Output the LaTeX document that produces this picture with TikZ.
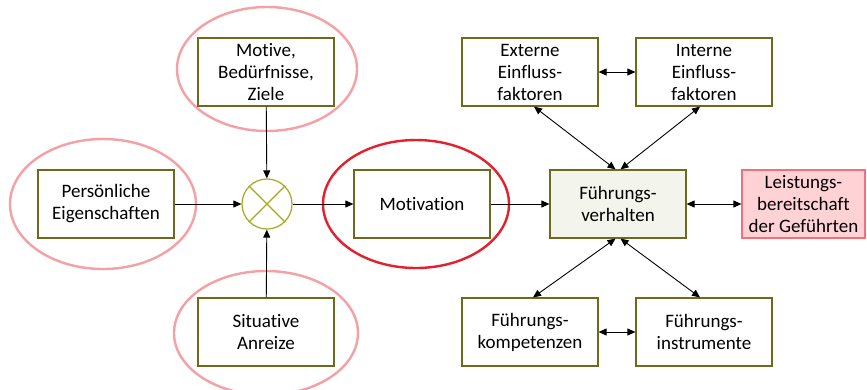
\documentclass[tikz,border=0pt]{standalone}
\usepackage{fontspec}
\setmainfont[Ligatures={NoCommon}]{Carlito}
\usetikzlibrary{arrows.meta,calc}
\definecolor{boxol}{HTML}{6B6B1E}
\definecolor{circol}{HTML}{A8A820}
\definecolor{pinkel}{HTML}{F5A0A4}
\definecolor{redel}{HTML}{E3202B}
\definecolor{fvfill}{HTML}{F3F5EC}
\definecolor{lbfill}{HTML}{FFD3D6}
\definecolor{lbdraw}{HTML}{F2707A}
\tikzset{
  x=1pt,y=-1pt,
  every node/.style={font=\fontsize{19}{22}\selectfont, align=center, inner sep=0pt},
  boxnode/.style={draw=boxol, line width=1.2pt, minimum width=136pt, minimum height=68pt},
  pinkring/.style={draw=pinkel, line width=2.4pt},
  redring/.style={draw=redel, line width=2.4pt},
  arr/.style={draw=black, line width=0.9pt, -{Triangle[length=8pt,width=7pt]}},
  darr/.style={draw=black, line width=0.9pt, {Triangle[length=8pt,width=7pt]}-{Triangle[length=8pt,width=7pt]}}
}
\begin{document}
\begin{tikzpicture}
\useasboundingbox (0,0) rectangle (867,389);
% ellipses
\draw[pinkring] (267,69) ellipse [x radius=90, y radius=62];
\draw[pinkring] (103,204) ellipse [x radius=93, y radius=65];
\draw[pinkring] (266,333) ellipse [x radius=92, y radius=62];
\draw[redring] (416,204) ellipse [x radius=93, y radius=64];
% boxes
\node[boxnode, fill=white] (mot) at (266,72) {Motive,\\Bedürfnisse,\\Ziele};
\node[boxnode, fill=white] (pers) at (106,204) {Persönliche\\Eigenschaften};
\node[boxnode, fill=white] (sit) at (266,332) {Situative\\Anreize};
\node[boxnode, fill=white] (motiv) at (422,204) {Motivation};
\node[boxnode, fill=fvfill] (fv) at (618,204) {Führungs-\\verhalten};
\node[draw=lbdraw, fill=lbfill, line width=1.2pt, minimum width=123pt, minimum height=68pt] (lb) at (803.5,204) {Leistungs-\\bereitschaft\\der Geführten};
\node[boxnode] (ext) at (530,72) {Externe\\Einfluss-\\faktoren};
\node[boxnode] (int) at (704,72) {Interne\\Einfluss-\\faktoren};
\node[boxnode] (komp) at (530,332) {Führungs-\\kompetenzen};
\node[boxnode] (instr) at (704,332) {Führungs-\\instrumente};
% combining circle
\node[draw=circol, line width=1.2pt, circle, minimum size=50pt, fill=white] (x) at (267,204) {};
\draw[circol, line width=1.2pt] (x.45) -- (x.225) (x.135) -- (x.315);
% connectors
\draw[arr] (pers) -- (x);
\draw[arr] (mot) -- (x);
\draw[arr] (sit) -- (x);
\draw[arr] (x) -- (motiv);
\draw[arr] (motiv) -- (fv);
\draw[darr] (fv) -- (lb);
\draw[darr] (ext) -- (int);
\draw[darr] (komp) -- (instr);
\coordinate (fvtl) at ($(fv.north)+(-2.5,0)$);
\coordinate (fvtr) at ($(fv.north)+(2.5,0)$);
\coordinate (fvbl) at ($(fv.south)+(-2.5,0)$);
\coordinate (fvbr) at ($(fv.south)+(2.5,0)$);
\coordinate (extb) at ($(ext.south)+(4,0)$);
\coordinate (intb) at ($(int.south)+(-4,0)$);
\coordinate (kompt) at ($(komp.north)+(3,0)$);
\coordinate (instrt) at ($(instr.north)+(-4,0)$);
\draw[darr] (fvtl) -- (extb);
\draw[darr] (fvtr) -- (intb);
\draw[darr] (fvbl) -- (kompt);
\draw[darr] (fvbr) -- (instrt);
\end{tikzpicture}
\end{document}
